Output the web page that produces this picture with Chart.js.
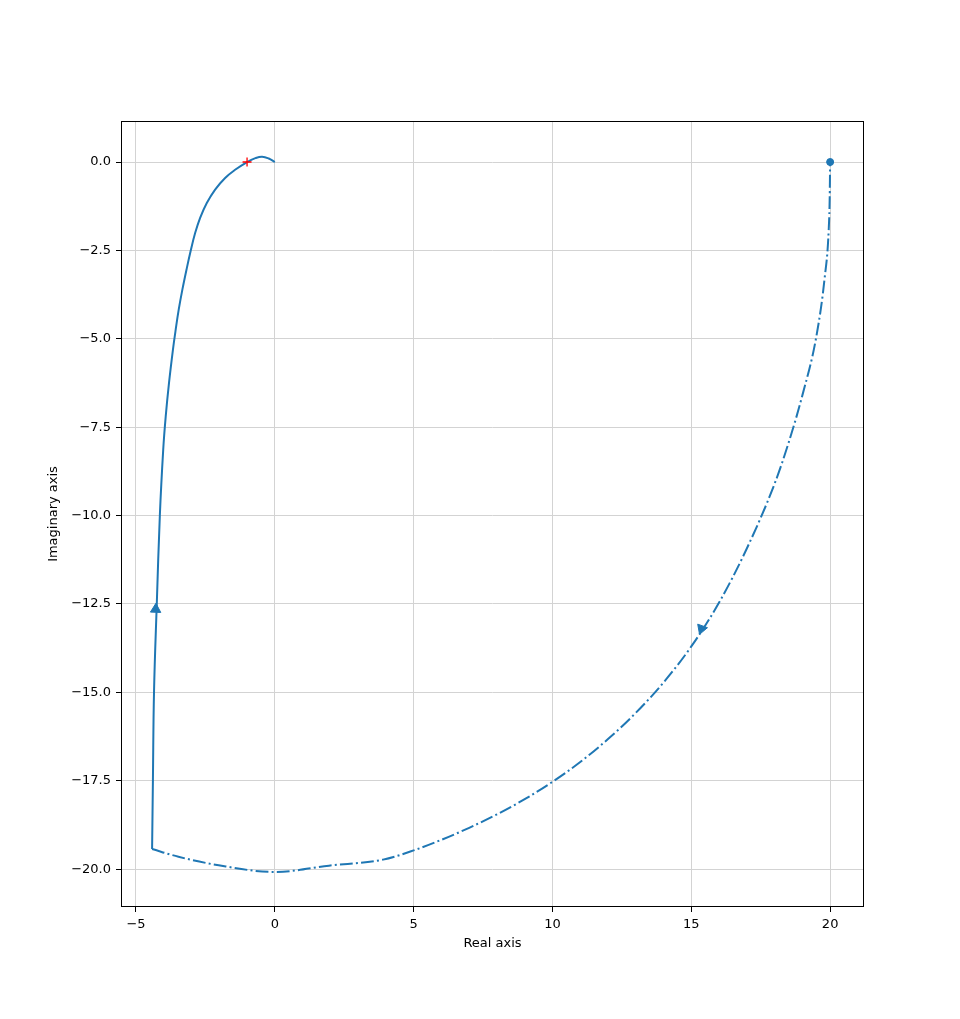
<!DOCTYPE html>
<html>
<head>
<meta charset="utf-8">
<script src="https://cdn.jsdelivr.net/npm/chart.js@4/dist/chart.umd.min.js"></script>
<style>
  html, body { margin: 0; padding: 0; background: #fff; }
  #wrap { width: 960px; height: 1019px; position: relative; }
</style>
</head>
<body>
<div id="wrap"><canvas id="chart-main"></canvas></div>
<script>
// nyquist curve, positive frequencies (solid)
const solidRe = [-4.42, -4.39, -4.35, -4.25, -4.14, -4.02, -3.93, -3.81, -3.67, -3.57, -3.46, -3.33, -3.18,
  -3.03, -2.87, -2.69, -2.45, -2.15, -1.79, -1.43, -1.0, -0.7, -0.46, -0.22, 0.0];
const solidIm = [-19.43, -17.45, -14.96, -12.47, -9.98, -8.14, -7.20, -6.24, -5.31, -4.74, -4.17, -3.61, -3.04,
  -2.51, -2.01, -1.58, -1.16, -0.78, -0.45, -0.22, 0.0, 0.11, 0.15, 0.1, 0.0];

// mirror curve (dash-dot)
const mirrorRe = [-4.42, -3.47, -2.02, 0.0, 1.95, 3.9, 5.0, 6.0, 7.0, 8.0, 9.0, 10.0, 11.0, 12.0, 13.0, 14.0,
  15.0, 16.0, 17.0, 18.0, 18.5, 19.0, 19.5, 19.8, 19.95, 19.985, 20.0];
const mirrorIm = [-19.43, -19.65, -19.89, -20.08, -19.9, -19.73, -19.47, -19.17, -18.83, -18.45, -18.02, -17.53,
  -16.97, -16.32, -15.58, -14.72, -13.70, -12.46, -10.93, -9.1, -7.95, -6.6, -4.95, -3.3, -1.9, -1.0, 0.0];

// direction arrows
const arrowRe = [-4.29, 15.37];
const arrowIm = [-12.65, -13.2];
const arrowRot = [2, 80];

// critical point and end point
const critical = { re: -1, im: 0 };
const endPoint = { re: 20, im: 0 };

const xTicks = [-5, 0, 5, 10, 15, 20];
const yTicks = [0, -2.5, -5, -7.5, -10, -12.5, -15, -17.5, -20];
const xRange = [-5.54, 21.22];
const yRange = [-21.07, 1.16];

const blue = "#1f77b4";
const font = { family: "DejaVu Sans", size: 13 };

const toPts = (re, im) => re.map((v, i) => ({ x: v, y: im[i] }));
const minus = (s) => s.replace("-", "\u2212");

// full box around the axes, like matplotlib spines
const framePlugin = {
  id: "frame",
  afterDraw(chart) {
    const { ctx, chartArea: a } = chart;
    ctx.save();
    ctx.strokeStyle = "#000";
    ctx.lineWidth = 1;
    ctx.strokeRect(a.left + 0.5, a.top + 0.5, a.right - a.left - 1, a.bottom - a.top - 1);
    ctx.restore();
  },
};

new Chart(document.getElementById("chart-main"), {
  type: "scatter",
  data: {
    datasets: [
      {
        data: [{ x: critical.re, y: critical.im }],
        pointStyle: "cross",
        pointRadius: 4.5,
        borderColor: "#ff0000",
        borderWidth: 1.3,
      },
      {
        data: [{ x: endPoint.re, y: endPoint.im }],
        pointStyle: "circle",
        pointRadius: 3.5,
        backgroundColor: blue,
        borderColor: blue,
      },
      {
        data: toPts(arrowRe, arrowIm),
        pointStyle: "triangle",
        pointRadius: 6,
        pointRotation: arrowRot,
        backgroundColor: blue,
        borderColor: blue,
        borderWidth: 1,
      },
      {
        data: toPts(solidRe, solidIm),
        showLine: true,
        borderColor: blue,
        borderWidth: 2,
        pointRadius: 0,
        tension: 0.4,
      },
      {
        data: toPts(mirrorRe, mirrorIm),
        showLine: true,
        borderColor: blue,
        borderWidth: 2,
        borderDash: [12.8, 3.2, 2, 3.2],
        pointRadius: 0,
        cubicInterpolationMode: "monotone",
      },
    ],
  },
  options: {
    responsive: true,
    maintainAspectRatio: false,
    animation: false,
    layout: { padding: { top: 121, right: 96, left: 0, bottom: 0 } },
    plugins: { legend: { display: false }, tooltip: { enabled: false } },
    scales: {
      x: {
        type: "linear",
        min: xRange[0],
        max: xRange[1],
        border: { display: false },
        grid: { color: "#d3d3d3", lineWidth: 1, tickColor: "#000", tickLength: 5 },
        ticks: {
          color: "#000",
          font,
          padding: 5,
          maxRotation: 0,
          callback: (v) => minus(String(v)),
        },
        afterBuildTicks: (s) => { s.ticks = xTicks.map((v) => ({ value: v })); },
        afterFit: (s) => { s.height = 112; },
        title: { display: true, text: "Real axis", color: "#000", font, padding: { top: 0, bottom: 68 } },
      },
      y: {
        type: "linear",
        min: yRange[0],
        max: yRange[1],
        border: { display: false },
        grid: { color: "#d3d3d3", lineWidth: 1, tickColor: "#000", tickLength: 5 },
        ticks: {
          color: "#000",
          font,
          padding: 5,
          callback: (v) => minus(v.toFixed(1)),
        },
        afterBuildTicks: (s) => { s.ticks = yTicks.map((v) => ({ value: v })); },
        afterFit: (s) => { s.width = 121; },
        title: { display: true, text: "Imaginary axis", color: "#000", font, padding: { top: 46, bottom: 0 } },
      },
    },
  },
  plugins: [framePlugin],
});
</script>
</body>
</html>
